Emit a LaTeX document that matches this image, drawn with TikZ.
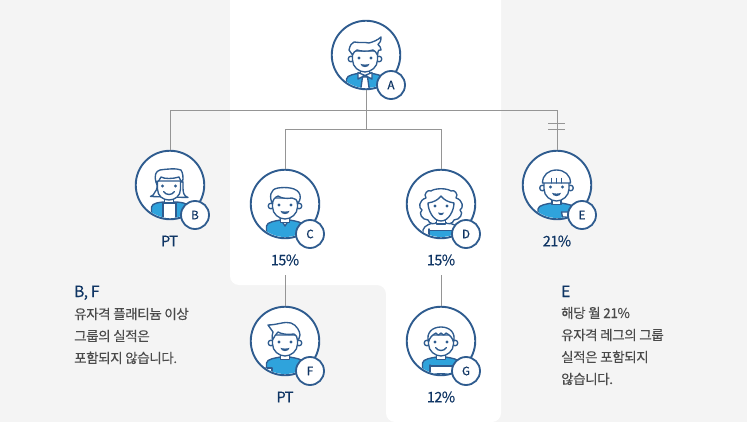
\documentclass[tikz,border=0pt]{standalone}
\usepackage{fontspec}
\setmainfont{Noto Sans CJK KR}
\newfontfamily\medfont[FakeBold=0.3,LetterSpace=-4]{Noto Sans CJK KR}
\newfontfamily\badgefont[FakeBold=0.8]{Noto Sans CJK KR}
\newfontfamily\txtfont[FakeBold=0.15,LetterSpace=-3]{Noto Sans CJK KR}
\usetikzlibrary{calc}
\definecolor{bgGrey}{HTML}{F4F4F4}
\definecolor{ink}{HTML}{2F5C8F}
\definecolor{skyb}{HTML}{2FA3DC}
\definecolor{navy}{HTML}{0F3564}
\definecolor{conn}{HTML}{959595}
\definecolor{bodytxt}{HTML}{4A4A4A}
\tikzset{
 x=1pt,y=-1pt,
 conline/.style={draw=conn,line width=0.9pt},
 ringnode/.style={circle,draw=ink,line width=1.9pt,fill=white,minimum size=68.5pt,inner sep=0pt},
 badge/.style={circle,draw=ink,line width=1.8pt,fill=white,minimum size=28pt,inner sep=0pt,text=navy,font=\badgefont\fontsize{11.5}{13}\selectfont},
 rate/.style={text=navy,font=\medfont\fontsize{14.5}{15}\selectfont,inner sep=0pt,anchor=center},
 notehead/.style={text=navy,font=\medfont\fontsize{15.5}{16}\selectfont,inner sep=0pt,anchor=base west},
 notebody/.style={text=bodytxt,font=\txtfont\fontsize{13.5}{14}\selectfont,inner sep=0pt,anchor=base west},
 ln/.style={draw=ink,line width=1.35pt,line join=round,line cap=round},
 wh/.style={ln,fill=white},
 bl/.style={ln,fill=skyb},
}
% local coordinates: origin at the ring centre, in px, y pointing down
\newcommand{\headbase}[1]{%
  \draw[wh] (-14,2) circle[radius=2.8]; \draw[wh] (14,2) circle[radius=2.8];
  \draw[wh] (-4.5,11) rectangle (4.5,18.5);
  \draw[wh] (-12.5,-6) -- (-12.5,3) .. controls (-12.5,10) and (-6,15) .. (0,15) .. controls (6,15) and (12.5,10) .. (12.5,3) -- (12.5,-6) -- cycle;
  \fill[ink] (-6,1) circle[radius=1.6]; \fill[ink] (6,1) circle[radius=1.6];
  #1}
\newcommand{\mouthopen}{\fill[ink] (-4.6,6.8) .. controls (-2,7.8) and (2,7.8) .. (4.6,6.8) .. controls (4,11.2) and (-4,11.2) .. (-4.6,6.8) -- cycle;}
\newcommand{\mouthsmile}{\draw[ln] (-5.5,6.5) .. controls (-3,10.5) and (3,10.5) .. (5.5,6.5);}
\newcommand{\shoulders}{(-18.5,36) -- (-18.5,22) .. controls (-18,18) and (-10,17) .. (-4.5,16) -- (4.5,16) .. controls (10,17) and (18,18) .. (19,22) -- (19,36) -- cycle}
\begin{document}
\begin{tikzpicture}
\useasboundingbox (0,0) rectangle (747,422);
\fill[bgGrey] (0,0) rectangle (747,422);
\fill[white,rounded corners=9pt] (230,-12) -- (501,-12) -- (501,422) -- (386,422) -- (386,285) -- (230,285) -- cycle;

% rings
\node[ringnode] (A) at (366,55) {};
\node[ringnode] (B) at (170,185) {};
\node[ringnode] (C) at (285,204) {};
\node[ringnode] (D) at (441,204) {};
\node[ringnode] (E) at (557,185) {};
\node[ringnode] (F) at (285,341) {};
\node[ringnode] (G) at (441,341) {};

% connectors
\coordinate (busL) at (170,110);
\coordinate (busM) at (366,110);
\coordinate (busR) at (557,110);
\coordinate (subM) at (366,129);
\coordinate (subL) at (285,129);
\coordinate (subR) at (441,129);
\coordinate (stubF) at (285,275);
\coordinate (stubG) at (441,275);
\coordinate (t1a) at (548,123); \coordinate (t1b) at (565,123);
\coordinate (t2a) at (548,129.5); \coordinate (t2b) at (565,129.5);
\draw[conline] (B.north) -- (busL) -- (busR) -- (E.north);
\draw[conline] (A.south) -- (subM);
\draw[conline] (C.north) -- (subL) -- (subR) -- (D.north);
\draw[conline] (stubF) -- (F.north);
\draw[conline] (stubG) -- (G.north);
\draw[conline] (t1a) -- (t1b);
\draw[conline] (t2a) -- (t2b);

% A
\begin{scope}[shift={(365,55)}]
 \begin{scope}
  \clip (1,0) circle[radius=33];
  \begin{scope}[shift={(0,2)}]
  \draw[bl] \shoulders;
  \end{scope}
 \end{scope}
 \begin{scope}[shift={(0,2)}]
 \headbase{\mouthopen}
 \end{scope}
 \begin{scope}
  \clip (1,0) circle[radius=33];
  \draw[wh] (-2.5,22) -- (2.5,22) -- (4.5,36) -- (-4.5,36) -- cycle;
  \draw[wh] (0,20.5) -- (-7,17.5) -- (-7,24) -- cycle;
  \draw[wh] (0,20.5) -- (7,17.5) -- (7,24) -- cycle;
 \end{scope}
 \draw[wh] (-12.5,0) -- (-16,-5) .. controls (-15,-10) and (-13,-12) .. (-11,-13) .. controls (-5,-12) and (0,-13) .. (4,-12) .. controls (8,-13) and (13,-15) .. (16,-18) .. controls (16,-14) and (15,-12) .. (13,-10.5) .. controls (15,-9) and (16,-7) .. (16,-5) .. controls (14,-6) and (13,-5) .. (12.5,0) .. controls (11,-3) and (10,-4) .. (8,-5) .. controls (2,-3) and (-5,-4) .. (-8,-5) .. controls (-10,-4) and (-12,-2) .. (-12.5,0) -- cycle;
\end{scope}

% B
\begin{scope}[shift={(170,185)}]
 \begin{scope}
  \clip (0,0) circle[radius=33];
  \draw[bl] (-18.5,36) -- (-18.5,22) .. controls (-18,18) and (-10,17) .. (-5,17) -- (5,17) .. controls (10,17) and (18,18) .. (19,22) -- (19,36) -- cycle;
  \draw[wh] (-7,18) -- (6,18) -- (6,36) -- (-7,36) -- cycle;
 \end{scope}
 \draw[wh] (-14,-3) .. controls (-12,1) and (-13,5) .. (-15,7) .. controls (-16,9) and (-17,11) .. (-19.5,11.5) -- (18,12.5) .. controls (14,11) and (13,8) .. (13,3) -- (13,-3) -- cycle;
 \begin{scope}[shift={(-1,0)}]
 \draw[wh] (-4.5,12) rectangle (4.5,18);
 \draw[wh] (-11.5,-4) -- (-11.5,4) .. controls (-11.5,11) and (-6,15) .. (0,15) .. controls (6,15) and (11.5,11) .. (11.5,4) -- (11.5,-4) -- cycle;
 \fill[ink] (-6.5,1) circle[radius=1.6]; \fill[ink] (6.5,1) circle[radius=1.6];
 \mouthsmile
 \end{scope}
 \draw[wh] (-14,-3) .. controls (-16,-10) and (-14,-14) .. (-10,-15) .. controls (-3,-16) and (6,-17) .. (11,-15) .. controls (13,-12) and (13.5,-7) .. (12.5,-3) .. controls (11,-3) and (10,-6) .. (9,-8) .. controls (3,-6) and (-6,-6) .. (-9,-8) .. controls (-10,-5) and (-12,-3) .. (-14,-3) -- cycle;
\end{scope}

% C
\begin{scope}[shift={(285,204)}]
 \begin{scope}
  \clip (0,0) circle[radius=33];
  \draw[bl] \shoulders;
  \draw[wh] (-5,14) -- (0,22) -- (5,14) -- cycle;
 \end{scope}
 \headbase{\mouthopen}
 \draw[wh] (-12.5,0) .. controls (-16,-7) and (-15,-15) .. (-7,-16) .. controls (0,-17) and (13,-17) .. (15,-9) .. controls (16,-5) and (14,-2) .. (12.5,0) .. controls (12.5,-4) and (10,-6) .. (7,-6) .. controls (1,-5) and (-4,-6) .. (-7,-8) .. controls (-10,-7) and (-12.5,-4) .. (-12.5,0) -- cycle;
\end{scope}

% D
\begin{scope}[shift={(441,204)}]
 \begin{scope}
  \clip (0,0) circle[radius=33];
  \draw[wh] (-18,36) -- (-18,26) .. controls (-17,21) and (-9,19) .. (-4,18) -- (4,18) .. controls (9,19) and (17,21) .. (18,26) -- (18,36) -- cycle;
  \fill[skyb] (-12,26.5) rectangle (18,36);
  \draw[ln] (-12,26.5) -- (18,26.5);
  \draw[ln] (-12,25) -- (-12,36);
 \end{scope}
 \draw[wh] (-10,-13) .. controls (-13,-15) and (-18,-10) .. (-15,-6) .. controls (-22,-4) and (-23,4) .. (-19,6) .. controls (-23,9) and (-19,16) .. (-13,16) .. controls (-12,20) and (-6,21) .. (-4,18) -- (4,18) .. controls (6,21) and (12,20) .. (13,16) .. controls (19,16) and (23,9) .. (19,6) .. controls (23,4) and (22,-4) .. (15,-6) .. controls (18,-10) and (13,-15) .. (10,-13) .. controls (6,-16) and (-6,-16) .. (-10,-13) -- cycle;
 \draw[wh] (-4.5,13) rectangle (4.5,20);
 \draw[wh] (-13,-1) .. controls (-7,-2) and (-3,-4) .. (0,-8) .. controls (3,-4) and (7,-2) .. (13,-1) .. controls (13,6) and (8,17) .. (0,17) .. controls (-8,17) and (-13,6) .. (-13,-1) -- cycle;
 \fill[ink] (-6,2) circle[radius=1.6]; \fill[ink] (6,2) circle[radius=1.6];
 \fill[ink] (-3,8.5) .. controls (-1,9.3) and (1,9.3) .. (3,8.5) .. controls (2.5,12) and (-2.5,12) .. (-3,8.5) -- cycle;
\end{scope}

% E
\begin{scope}[shift={(556.5,185)}]
 \begin{scope}
  \clip (0.5,0) circle[radius=33];
  \begin{scope}[shift={(0,2)}]
  \draw[bl] \shoulders;
  \end{scope}
  \draw[wh] (5,27) -- (12,27) -- (11,32) -- (6,32) -- cycle;
 \end{scope}
 \begin{scope}[shift={(0,1)}]
 \headbase{\mouthopen}
 \end{scope}
 \draw[wh] (-14,-2) .. controls (-14,-10) and (-8,-15) .. (0,-15) .. controls (8,-15) and (14,-10) .. (14,-2) -- cycle;
 \foreach \xx in {-5,0,5} {\draw[ln] (\xx,-6.5) -- (\xx,-2);}
\end{scope}

% F
\begin{scope}[shift={(285,341)}]
 \begin{scope}
  \clip (0,0) circle[radius=33];
  \draw[bl] \shoulders;
  \draw[wh] (-19,27) rectangle (-13,36);
 \end{scope}
 \headbase{\mouthopen}
 \draw[wh] (-12.5,-1) .. controls (-13,-4) and (-13,-7) .. (-12,-9) -- (-17,-16) .. controls (-8,-16) and (0,-20) .. (6,-18) .. controls (12,-16) and (15,-9) .. (15,-6) .. controls (15,-3) and (13,-1) .. (12.5,-1) .. controls (12.5,-4) and (11,-6) .. (9,-7) .. controls (3,-6) and (-4,-7) .. (-7,-9) .. controls (-9,-7) and (-11,-4) .. (-12.5,-1) -- cycle;
\end{scope}

% G
\begin{scope}[shift={(441,341)}]
 \begin{scope}
  \clip (0,0) circle[radius=33];
  \draw[bl] \shoulders;
  \draw[wh] (-11,25) rectangle (19,33);
  \draw[ln] (-11,24) -- (-11,36);
 \end{scope}
 \headbase{\mouthsmile}
 \draw[wh] (-12.5,1) .. controls (-15,-8) and (-9,-14) .. (0,-14) .. controls (9,-14) and (15,-8) .. (12.5,1) .. controls (11.5,-3) and (9,-6) .. (5,-8) .. controls (3,-5) and (1,-6) .. (0,-8) .. controls (-1,-6) and (-3,-5) .. (-5,-8) .. controls (-9,-6) and (-11.5,-3) .. (-12.5,1) -- cycle;
\end{scope}

% badges
\node[badge] (bA) at (391,85) {A};
\node[badge] (bB) at (195,215) {B};
\node[badge] (bC) at (310,234) {C};
\node[badge] (bD) at (466,234) {D};
\node[badge] (bE) at (582,215) {E};
\node[badge] (bF) at (310,371) {F};
\node[badge] (bG) at (466,371) {G};

% labels
\node[rate] (lB) at (169.5,241) {PT};
\node[rate] (lC) at (285,260) {15\%};
\node[rate] (lD) at (441,260) {15\%};
\node[rate] (lE) at (557,241) {21\%};
\node[rate] (lF) at (285,397) {PT};
\node[rate] (lG) at (441,397) {12\%};

% notes
\node[notehead] (n1) at (74,297) {B, F};
\node[notebody] (n1a) at (74,319) {유자격 플래티늄 이상};
\node[notebody] (n1b) at (74,341) {그룹의 실적은};
\node[notebody] (n1c) at (74,363) {포함되지 않습니다.};
\node[notehead] (n2) at (561,297) {E};
\node[notebody] (n2a) at (561,318) {해당 월 21\%};
\node[notebody] (n2b) at (561,340) {유자격 레그의 그룹};
\node[notebody] (n2c) at (561,362) {실적은 포함되지};
\node[notebody] (n2d) at (561,384) {않습니다.};
\end{tikzpicture}
\end{document}
